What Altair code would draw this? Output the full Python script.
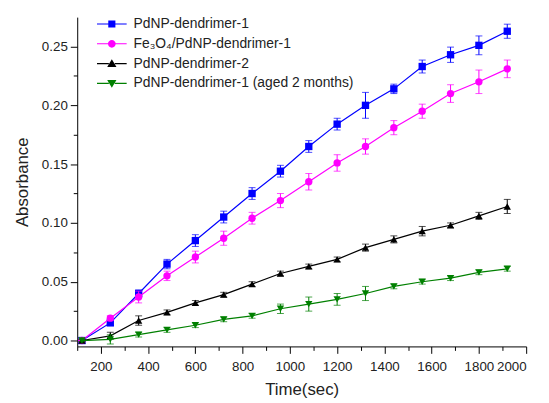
import altair as alt
import pandas as pd

times = [120, 240, 360, 480, 600, 720, 840, 960, 1080, 1200, 1320, 1440, 1560, 1680, 1800, 1920]

series_names = [
    "PdNP-dendrimer-1",
    "Fe₃O₄/PdNP-dendrimer-1",
    "PdNP-dendrimer-2",
    "PdNP-dendrimer-1 (aged 2 months)",
]
series_colors = ["#0000ff", "#ff00ff", "#000000", "#008000"]
series_shapes = ["square", "circle", "triangle-up", "triangle-down"]

blue = [0.000, 0.015, 0.040, 0.065, 0.085, 0.105, 0.125, 0.144, 0.165, 0.184, 0.200, 0.214, 0.233, 0.243, 0.251, 0.263]
blue_err = [0.002, 0.002, 0.003, 0.004, 0.005, 0.005, 0.005, 0.005, 0.005, 0.005, 0.011, 0.004, 0.0055, 0.0065, 0.008, 0.006]

pink = [0.000, 0.019, 0.037, 0.055, 0.071, 0.087, 0.104, 0.119, 0.135, 0.151, 0.165, 0.181, 0.195, 0.210, 0.220, 0.231]
pink_err = [0.001, 0.002, 0.005, 0.004, 0.005, 0.006, 0.005, 0.006, 0.007, 0.007, 0.0065, 0.006, 0.006, 0.0075, 0.010, 0.0075]

black = [0.000, 0.004, 0.017, 0.024, 0.032, 0.039, 0.048, 0.057, 0.063, 0.069, 0.079, 0.086, 0.093, 0.098, 0.106, 0.114]
black_err = [0.001, 0.003, 0.004, 0.002, 0.002, 0.002, 0.002, 0.002, 0.002, 0.002, 0.003, 0.003, 0.004, 0.002, 0.003, 0.006]

green = [0.000, 0.001, 0.005, 0.009, 0.013, 0.018, 0.021, 0.027, 0.031, 0.035, 0.040, 0.046, 0.050, 0.053, 0.058, 0.061]
green_err = [0.001, 0.004, 0.002, 0.002, 0.002, 0.002, 0.002, 0.004, 0.006, 0.005, 0.006, 0.002, 0.002, 0.002, 0.002, 0.002]

x_major = list(range(200, 2001, 200))
x_minor = list(range(100, 2000, 200))
y_major = [0.0, 0.05, 0.10, 0.15, 0.20, 0.25]
y_minor = [0.025, 0.075, 0.125, 0.175, 0.225]

values = [blue, pink, black, green]
errors = [blue_err, pink_err, black_err, green_err]

# legend symbols: short line with marker in the middle (custom SVG paths)
bars = "M-2.5,-0.09H-0.5V0.09H-2.5Z M0.5,-0.09H2.5V0.09H0.5Z "
legend_paths = [
    bars + "M-0.6,-0.6H0.6V0.6H-0.6Z",
    bars + "M-0.65,0A0.65,0.65 0 1,1 0.65,0A0.65,0.65 0 1,1 -0.65,0Z",
    bars + "M0,-0.72L0.78,0.58H-0.78Z",
    bars + "M-0.78,-0.58H0.78L0,0.72Z",
]

FONT = "Liberation Sans"
xscale = alt.Scale(domain=[100, 2000], nice=False, zero=False)
yscale = alt.Scale(domain=[-0.005, 0.275], nice=False, zero=False)

x_axis = alt.Axis(title="Time(sec)", orient="bottom", values=x_major, tickSize=7,
                  labelOverlap=False, labelPadding=6, titlePadding=9, format="d")
y_axis = alt.Axis(title="Absorbance", orient="left", values=y_major, tickSize=7,
                  labelOverlap=False, labelPadding=3, titlePadding=10, format=".2f")

x_enc = alt.X("t:Q", scale=xscale, axis=x_axis)
y_enc = alt.Y("v:Q", scale=yscale, axis=y_axis)

layers = []
for name, col, shp, vals, errs in zip(series_names, series_colors, series_shapes, values, errors):
    df = pd.DataFrame({
        "t": times,
        "v": vals,
        "lo": [a - e for a, e in zip(vals, errs)],
        "hi": [a + e for a, e in zip(vals, errs)],
    })
    base = alt.Chart(df)
    layers.append(base.mark_line(strokeWidth=1.2, color=col).encode(x=x_enc, y=y_enc))
    layers.append(base.mark_rule(strokeWidth=1, color=col).encode(
        x=x_enc, y=alt.Y("lo:Q", scale=yscale, axis=y_axis), y2="hi:Q"))
    layers.append(base.mark_tick(size=7, thickness=1, color=col, orient="horizontal").encode(
        x=x_enc, y=alt.Y("lo:Q", scale=yscale, axis=y_axis)))
    layers.append(base.mark_tick(size=7, thickness=1, color=col, orient="horizontal").encode(
        x=x_enc, y=alt.Y("hi:Q", scale=yscale, axis=y_axis)))
    layers.append(base.mark_point(shape=shp, filled=True, size=55, opacity=1, color=col).encode(x=x_enc, y=y_enc))

legend_df = pd.DataFrame({"t": [0] * 4, "v": [0] * 4, "series": series_names})
legend_layer = alt.Chart(legend_df).mark_point(filled=True, opacity=1, clip=True, size=144).encode(
    x=x_enc, y=y_enc,
    color=alt.Color("series:N", scale=alt.Scale(domain=series_names, range=series_colors),
                    legend=alt.Legend(title=None, orient="none", legendX=28, legendY=0,
                                      symbolSize=144, labelOffset=15, rowPadding=6,
                                      labelFontSize=14, labelFont=FONT, labelColor="#222",
                                      padding=0, symbolStrokeWidth=0, labelLimit=400)),
    shape=alt.Shape("series:N", scale=alt.Scale(domain=series_names, range=legend_paths), legend=None),
)
layers.append(legend_layer)

main = alt.layer(*layers)

# minor ticks as a second (overlapping) pair of axes sharing the same scales
minor_df = pd.DataFrame({"t": [times[0]], "v": [blue[0]]})
minor = alt.Chart(minor_df).mark_point(opacity=0).encode(
    x=alt.X("t:Q", scale=xscale, axis=alt.Axis(orient="bottom", values=x_minor, tickSize=4,
                                               labels=False, domain=False, title=None)),
    y=alt.Y("v:Q", scale=yscale, axis=alt.Axis(orient="left", values=y_minor, tickSize=4,
                                               labels=False, domain=False, title=None)),
)

chart = alt.layer(main, minor).resolve_axis(x="independent", y="independent").properties(
    width=454, height=333,
    padding={"left": 70, "top": 7, "right": 15, "bottom": 55},
    autosize=alt.AutoSizeParams(type="none"),
    background="white",
).configure_view(stroke=None).configure_axis(
    grid=False, domainColor="#000", tickColor="#000", domainWidth=1, tickWidth=1,
    labelFont=FONT, titleFont=FONT, labelFontSize=13.5, titleFontSize=17,
    labelColor="#222", titleColor="#222", titleFontWeight="normal",
)

chart.save("out.html", embed_options={"renderer": "svg", "actions": False})
